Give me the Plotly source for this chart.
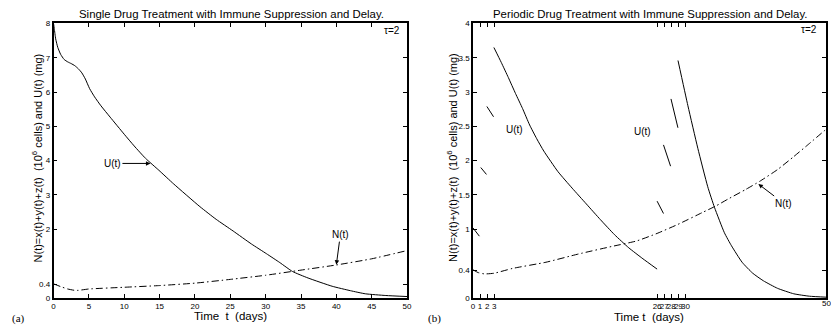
import plotly.graph_objects as go

# ---------------- data: panel (a) ----------------
a_u_t = [0, 0.1, 0.3, 0.6, 1.0, 1.5, 2.0, 2.5, 3.0, 3.5, 4.0, 4.5, 5.1, 5.8, 6.7, 8, 10, 11.4, 13, 14.9, 17,
         20.7, 23, 25.4, 28, 30.1, 32, 33.8, 36, 39.4, 42, 44.1, 47, 50]
a_u = [8, 7.85, 7.55, 7.3, 7.1, 6.95, 6.88, 6.83, 6.77, 6.68, 6.56, 6.38, 6.1, 5.86, 5.6, 5.27, 4.77, 4.43, 4.07,
       3.72, 3.32, 2.66, 2.29, 1.95, 1.57, 1.29, 1.03, 0.77, 0.58, 0.34, 0.21, 0.12, 0.07, 0.04]
a_n_t = [0, 1, 2, 3, 3.5, 5, 10, 15, 20, 25, 30, 35, 40, 45, 50]
a_n = [0.41, 0.33, 0.26, 0.22, 0.22, 0.26, 0.31, 0.36, 0.43, 0.54, 0.66, 0.81, 0.96, 1.14, 1.38]
a_xticks = [0, 5, 10, 15, 20, 25, 30, 35, 40, 45, 50]
a_yticks = [0, 0.4, 2, 3, 4, 5, 6, 7, 8]

# ---------------- data: panel (b) ----------------
b_u_segments = [
    ([0.0, 0.9], [1.02, 0.90]),
    ([1.1, 1.9], [1.90, 1.80]),
    ([1.96, 2.9], [2.79, 2.64]),
    ([2.95, 4, 5, 6, 7, 8, 9, 10, 12, 14, 16, 18, 20, 22, 24, 26],
     [3.65, 3.43, 3.21, 2.98, 2.76, 2.52, 2.32, 2.14, 1.84, 1.60, 1.37, 1.14, 0.92, 0.73, 0.57, 0.42]),
    ([26.0, 26.9], [1.41, 1.23]),
    ([26.9, 27.9], [2.23, 1.92]),
    ([27.96, 28.94], [2.90, 2.48]),
    ([28.95, 30.35, 31.75, 33.15, 34.1, 35.5, 36.5, 38.0, 39.5, 41, 43, 45.3, 47.5, 50],
     [3.46, 2.80, 2.18, 1.62, 1.32, 0.95, 0.76, 0.52, 0.36, 0.25, 0.14, 0.06, 0.025, 0.01]),
]
b_n_t = [0, 0.7, 1.6, 3, 5.6, 10.3, 14.9, 19.6, 23.1, 26, 28.9, 32.5, 34.3, 36, 38.5, 40.5, 43, 45.3, 47.5, 50]
b_n = [0.41, 0.37, 0.35, 0.36, 0.43, 0.52, 0.64, 0.75, 0.83, 0.94, 1.07, 1.25, 1.34, 1.44, 1.58, 1.70, 1.87, 2.06,
       2.25, 2.47]
b_xticks = [0, 1, 2, 3, 26, 27, 28, 29, 30, 50]
b_yticks = [0, 0.4, 1, 1.5, 2, 2.5, 3, 3.5, 4]

W, H = 831, 336
FONT = "Liberation Sans, Arial, sans-serif"


def px(x):
    return x / W


def py(y):
    return 1 - y / H


fig = go.Figure()

line_u = dict(color="black", width=1, shape="spline", smoothing=0.5)
line_n = dict(color="black", width=1, dash="7px,3px,1.5px,3px", shape="spline", smoothing=0.5)

fig.add_trace(go.Scatter(x=a_u_t, y=a_u, mode="lines", line=line_u,
                         xaxis="x", yaxis="y", showlegend=False))
fig.add_trace(go.Scatter(x=a_n_t, y=a_n, mode="lines", line=line_n,
                         xaxis="x", yaxis="y", showlegend=False))
for ts, us in b_u_segments:
    fig.add_trace(go.Scatter(x=ts, y=us, mode="lines", line=line_u,
                             xaxis="x2", yaxis="y2", showlegend=False))
fig.add_trace(go.Scatter(x=b_n_t, y=b_n, mode="lines", line=line_n,
                         xaxis="x2", yaxis="y2", showlegend=False))

axis_common = dict(showline=True, linecolor="black", linewidth=1.5, mirror="ticks",
                   ticks="inside", ticklen=4, tickwidth=1, tickcolor="black",
                   showgrid=False, zeroline=False, tickangle=0,
                   tickfont=dict(family=FONT, size=8, color="black"))

ydom = [py(302), py(20)]
fig.update_layout(
    width=W, height=H, margin=dict(l=0, r=0, t=0, b=0),
    paper_bgcolor="white", plot_bgcolor="white",
    xaxis=dict(domain=[px(52), px(408.5)], range=[0, 50], tickvals=a_xticks,
               anchor="y", **axis_common),
    yaxis=dict(domain=ydom, range=[0, 8], tickvals=a_yticks,
               ticktext=[str(v) for v in a_yticks], anchor="x", **axis_common),
    xaxis2=dict(domain=[px(475), 1.0], range=[0, 49.85], tickvals=b_xticks,
                anchor="y2", **axis_common),
    yaxis2=dict(domain=ydom, range=[0, 4], tickvals=b_yticks,
                ticktext=[str(v) for v in b_yticks], anchor="x2", **axis_common),
)

ann = []
txt = dict(family=FONT, color="black")
C = dict(xanchor="center", yanchor="middle", showarrow=False)
# titles
ann.append(dict(text="Single Drug Treatment with Immune Suppression and Delay.", x=px(231), y=py(10),
                xref="paper", yref="paper", font=dict(size=11.4, **txt), **C))
ann.append(dict(text="Periodic Drug Treatment with Immune Suppression and Delay.", x=px(654), y=py(10),
                xref="paper", yref="paper", font=dict(size=11.4, **txt), **C))
# x titles
ann.append(dict(text="Time  t  (days)", x=px(230), y=py(321), xref="paper", yref="paper",
                font=dict(size=11.5, **txt), **C))
ann.append(dict(text="Time t  (days)", x=px(653), y=py(322), xref="paper", yref="paper",
                font=dict(size=11.5, **txt), **C))
# y titles
ylab = "N(t)=x(t)+y(t)+z(t)  (10<sup>6</sup> cells) and U(t) (mg)"
ann.append(dict(text=ylab, x=px(35), y=py(158), xref="paper", yref="paper", textangle=-90,
                font=dict(size=11, **txt), **C))
ann.append(dict(text=ylab, x=px(454), y=py(158), xref="paper", yref="paper", textangle=-90,
                font=dict(size=11, **txt), **C))
# panel letters
serif = dict(family="Liberation Serif, DejaVu Serif, serif", size=11, color="black")
ann.append(dict(text="(a)", x=px(17), y=py(323), xref="paper", yref="paper", font=serif, **C))
ann.append(dict(text="(b)", x=px(436), y=py(323), xref="paper", yref="paper", font=serif, **C))
# cut-off 50 label of panel (b)
ann.append(dict(text="50", x=px(832), y=py(308), xref="paper", yref="paper",
                font=dict(size=8, **txt), **C))
# tau labels
ann.append(dict(text="τ=2", x=47.8, y=7.8, xref="x", yref="y", font=dict(size=10, **txt), **C))
ann.append(dict(text="τ=2", x=47.4, y=3.91, xref="x2", yref="y2", font=dict(size=10, **txt), **C))
# curve labels
arr = dict(showarrow=True, arrowhead=2, arrowsize=0.9, arrowwidth=1, arrowcolor="black")
ann.append(dict(text="U(t)", x=13.7, y=3.92, xref="x", yref="y", ax=-38, ay=0,
                font=dict(size=10, **txt), **arr))
ann.append(dict(text="N(t)", x=40.0, y=0.97, xref="x", yref="y", ax=4, ay=-30,
                font=dict(size=10, **txt), **arr))
ann.append(dict(text="N(t)", x=40.3, y=1.66, xref="x2", yref="y2", ax=25, ay=19,
                font=dict(size=10, **txt), **arr))
ann.append(dict(text="U(t)", x=5.9, y=2.46, xref="x2", yref="y2", font=dict(size=10, **txt), **C))
ann.append(dict(text="U(t)", x=23.9, y=2.42, xref="x2", yref="y2", font=dict(size=10, **txt), **C))

fig.update_layout(annotations=ann)
fig.write_html("out.html")
